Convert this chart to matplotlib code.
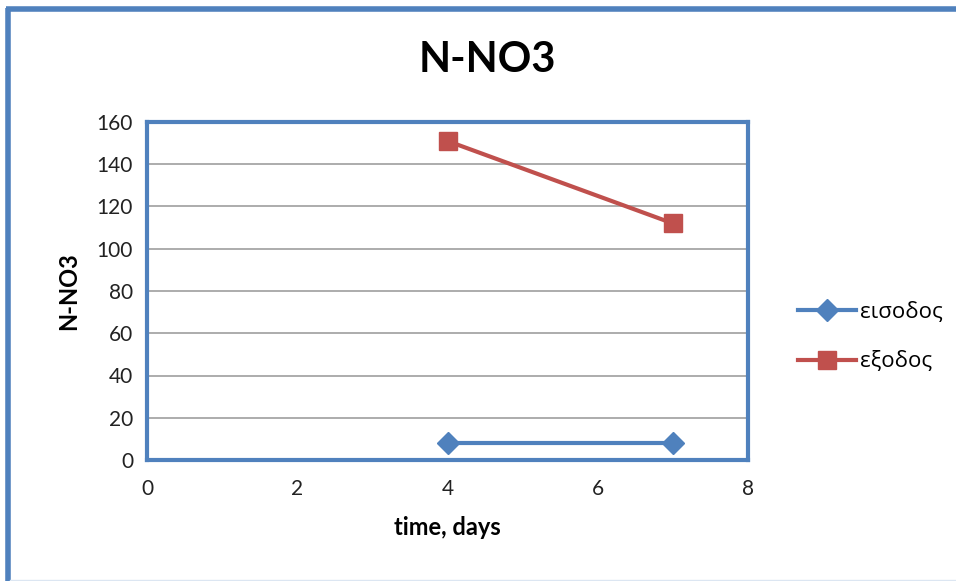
import matplotlib.pyplot as plt
from matplotlib.lines import Line2D

plt.rcParams['font.family'] = ['Lato', 'DejaVu Sans']

days = [4, 7]
eisodos = [8, 8]
exodos = [151, 112]
series_names = ['εισοδος', 'εξοδος']

blue = '#4F81BD'
red = '#C0504D'

fig = plt.figure(figsize=(9.56, 5.81), dpi=100)
ax = fig.add_axes([147 / 956, 1 - 460 / 581, 601 / 956, 338 / 581])

# chart frame: only the left and top edges show
fig.add_artist(Line2D([8 / 956, 8 / 956], [0.0, 1 - 8 / 581], transform=fig.transFigure,
                      color=blue, lw=4, solid_capstyle='butt'))
fig.add_artist(Line2D([6 / 956, 1.0], [1 - 8.5 / 581, 1 - 8.5 / 581], transform=fig.transFigure,
                      color=blue, lw=4, solid_capstyle='butt'))
fig.add_artist(Line2D([10 / 956, 1.0], [0.6 / 581, 0.6 / 581], transform=fig.transFigure,
                      color='#DCE6F2', lw=1))

ax.plot(days, eisodos, color=blue, lw=3, marker='D', ms=11, label=series_names[0])
ax.plot(days, exodos, color=red, lw=3, marker='s', ms=13, label=series_names[1])

ax.set_xlim(0, 8)
ax.set_ylim(0, 160)
ax.set_xticks(range(0, 9, 2))
ax.set_yticks(range(0, 161, 20))
ax.yaxis.grid(True, color='#A6A6A6', lw=1.3)
ax.set_axisbelow(True)
ax.tick_params(length=0, labelsize=15, colors='#222222', pad=10)
ax.tick_params(axis='x', pad=14)
for s in ax.spines.values():
    s.set_color(blue)
    s.set_linewidth(3)

ax.set_xlabel('time, days', fontsize=17, fontweight='bold', labelpad=12)
ax.set_ylabel('N-NO3', fontsize=17, fontweight='bold', labelpad=12)
fig.text(487 / 956, 1 - 60 / 581, 'N-NO3', ha='center', va='center',
         fontsize=30, fontweight='bold')

ax.legend(loc='center left', bbox_to_anchor=(1.068, 0.364), frameon=False, borderaxespad=0,
          prop={'family': ['Open Sans', 'DejaVu Sans'], 'size': 16},
          handlelength=2.6, labelspacing=1.3, handletextpad=0.2)

fig.savefig('out.png', dpi=100)
